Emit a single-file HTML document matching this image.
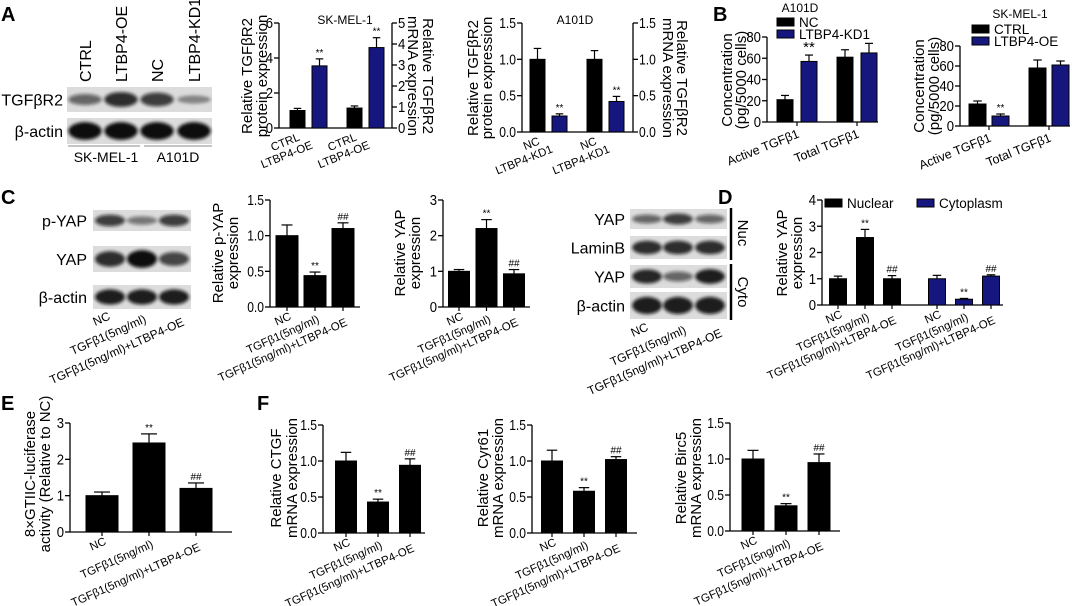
<!DOCTYPE html>
<html><head><meta charset="utf-8">
<style>
html,body{margin:0;padding:0;background:#fff;}
svg{display:block;font-family:"Liberation Sans",Arial,sans-serif;}
</style></head>
<body>
<svg id="fig" width="1072" height="606" viewBox="0 0 1072 606" xmlns="http://www.w3.org/2000/svg">
<defs><filter id="blur" x="-20%" y="-50%" width="140%" height="200%"><feGaussianBlur stdDeviation="1.6"/></filter></defs>
<g id="letters" font-weight="bold" font-size="20">
<text x="1" y="21">A</text>
<text x="713" y="21">B</text>
<text x="1" y="204">C</text>
<text x="718" y="204">D</text>
<text x="1" y="410">E</text>
<text x="257" y="410">F</text>
</g>
<g id="blots"></g>
<g id="charts"></g>
</svg>
<script>
// ---------- chart data ----------
const catsA1 = ["CTRL","LTBP4-OE","CTRL","LTBP4-OE"];
const valsA1 = [1.0, 3.55, 0.95, 3.83];
const errsA1 = [1.12, 3.95, 1.05, 4.3];
const sigA1 = ["", "**", "", "**"];
const catsA2 = ["NC","LTBP4-KD1","NC","LTBP4-KD1"];
const valsA2 = [1.0, 0.22, 1.0, 0.42];
const errsA2 = [1.15, 0.25, 1.12, 0.49];
const sigA2 = ["", "**", "", "**"];
const catsB = ["Active TGFβ1","Total TGFβ1"];
const valsB1 = [21, 57, 61, 65];
const errsB1 = [25, 63, 68, 74];
const sigB1 = ["", "**", "", ""];
const valsB2 = [22, 10, 58, 61];
const errsB2 = [25, 12, 66, 65];
const sigB2 = ["", "**", "", ""];
const cats3 = ["NC","TGFβ1(5ng/ml)","TGFβ1(5ng/ml)+LTBP4-OE"];
const valsC1 = [1.0, 0.44, 1.1]; const errsC1 = [1.15, 0.49, 1.18]; const sigC1 = ["","**","##"];
const valsC2 = [1.0, 2.2, 0.93]; const errsC2 = [1.05, 2.45, 1.05]; const sigC2 = ["","**","##"];
const valsD = [1.0, 2.57, 1.0, 1.0, 0.22, 1.1];
const errsD = [1.1, 2.88, 1.12, 1.13, 0.25, 1.15];
const sigD = ["", "**", "##", "", "**", "##"];
const valsE = [1.0, 2.45, 1.2]; const errsE = [1.1, 2.7, 1.35]; const sigE = ["","**","##"];
const valsF1 = [1.0, 0.43, 0.94]; const errsF1 = [1.12, 0.47, 1.03]; const sigF1 = ["","**","##"];
const valsF2 = [1.0, 0.58, 1.02]; const errsF2 = [1.15, 0.63, 1.06]; const sigF2 = ["","**","##"];
const valsF3 = [1.0, 0.35, 0.95]; const errsF3 = [1.12, 0.38, 1.07]; const sigF3 = ["","**","##"];
const ticks15 = ["0.0","0.5","1.0","1.5"];
const ticksA1L = ["0","2","4","6"];
const ticksA1R = ["0","1","2","3","4","5"];
const ticks80 = ["0","20","40","60","80"];
const ticks3 = ["0","1","2","3"];
const ticks4 = ["0","1","2","3","4"];

const NS = "http://www.w3.org/2000/svg";
const BLUE = "#16167f";
const root = document.getElementById('charts');
function mk(tag, attrs, parent, txt){
  const e = document.createElementNS(NS, tag);
  for (const k in attrs) e.setAttribute(k, attrs[k]);
  if (txt !== undefined) e.textContent = txt;
  (parent||root).appendChild(e); return e;
}
function yTitle(x1, x2, yc, lines, rot){
  [x1,x2].forEach((x,i)=>{
    const t = mk('text',{x:0,y:0,'font-size':15,'text-anchor':'middle',transform:`translate(${x},${yc}) rotate(${rot||-90})`},root,lines[i]);
    
    
  });
}
function axisY(g, x, yTop, yBot, ticks, right){
  mk('line',{x1:x,y1:yTop,x2:x,y2:yBot,stroke:'#000','stroke-width':1.3},g);
  const n = ticks.length-1;
  ticks.forEach((t,i)=>{
    const y = yBot - (yBot-yTop)*i/n;
    mk('line',{x1:x,y1:y,x2:right?x+5:x-5,y2:y,stroke:'#000','stroke-width':1.3},g);
    const digits = t.replace('.','').length, dots = t.length - digits;
    const tl = mk('text',{x:right?x+6:x-6,y:y+5,'font-size':14.5,'text-anchor':right?'start':'end',
      textLength:(digits*7.3+dots*2.2).toFixed(1),lengthAdjust:'spacingAndGlyphs'},g,t);
    
    
  });
}
function chart(name, s, vals, errs, sigs, maxes, ticks, cols){
  const g = mk('g',{});
  
  
  const maxL = maxes[0], maxR = maxes[1] || maxes[0];
  const yScale = (v, useR)=> s.yBot - (s.yBot - s.yTop) * v / (useR ? maxR : maxL);
  const xPos = i => s.x0 + s.pad + i*s.step + Math.floor(i / s.groupSize) * s.gap;
  axisY(g, s.x0, s.yTop, s.yBot, ticks[0]);
  if (s.rightAxis) axisY(g, s.rightAxis, s.yTop, s.yBot, ticks[1], true);
  mk('line',{x1:s.x0,y1:s.yBot,x2:s.xEnd,y2:s.yBot,stroke:'#000','stroke-width':1.3},g);
  vals.forEach((v,i)=>{
    const useR = s.rightAxis && i >= s.groupSize;
    const cx = xPos(i), y = yScale(v, useR), ye = yScale(errs[i], useR);
    mk('line',{x1:cx,y1:y,x2:cx,y2:ye,stroke:'#000','stroke-width':1.2},g);
    mk('line',{x1:cx-s.bw/4,y1:ye,x2:cx+s.bw/4,y2:ye,stroke:'#000','stroke-width':1.2},g);
    const b = mk('rect',{x:cx-s.bw/2,y:y,width:s.bw,height:s.yBot-y,fill:cols[i],stroke:'#000','stroke-width':1},g);
    
    
    if (sigs[i]){
      const st = mk('text',{x:cx,y:ye-3,'font-size':sigs[i]=='**'&&s.bigStar?15:10,'text-anchor':'middle'},g,sigs[i]);
      
      
    }
    if (s.tickX) mk('line',{x1:cx,y1:s.yBot,x2:cx,y2:s.yBot+4,stroke:'#000','stroke-width':1.2},g);
  });
  return xPos;
}
const K='#000';
const pA1 = chart('chart-a-skmel1',{x0:279,xEnd:392,yTop:23,yBot:128,pad:18.5,step:22,gap:13,groupSize:2,bw:15,rightAxis:392},
  valsA1,errsA1,sigA1,[6,5],[ticksA1L,ticksA1R],[K,BLUE,K,BLUE]);
const pA2 = chart('chart-a-a101d',{x0:522,xEnd:633,yTop:23,yBot:132,pad:15.5,step:22,gap:13,groupSize:2,bw:15,rightAxis:633},
  valsA2,errsA2,sigA2,[1.5,1.5],[ticks15,ticks15],[K,BLUE,K,BLUE]);
[[pA1,128,catsA1],[pA2,132,catsA2]].forEach(r=>{
  for(let i=0;i<4;i++){
    const x = i%2 ? r[0](i)-6 : r[0](i)+3;
    const t = mk('text',{x:0,y:0,'font-size':11.5,'text-anchor':'end',transform:`translate(${x},${r[1]+(i%2?20:12)}) rotate(-22)`},root,r[2][i]);
    
    
  }
});
mk('text',{x:345,y:24,'font-size':12,'text-anchor':'middle'},root,'SK-MEL-1');
mk('text',{x:575,y:24,'font-size':12,'text-anchor':'middle'},root,'A101D');
yTitle(252,267,76,['Relative TGFβR2','protein expression']);
yTitle(423,408,76,['Relative TGFβR2','mRNA expression'],90);
yTitle(478,492,78,['Relative TGFβR2','protein expression']);
yTitle(677,663,78,['Relative TGFβR2','mRNA expression'],90);

const pB1 = chart('chart-b-a101d',{x0:767,xEnd:878,yTop:37,yBot:122,pad:18,step:24,gap:12,groupSize:2,bw:16,bigStar:true},
  valsB1,errsB1,sigB1,[80],[ticks80],[K,BLUE,K,BLUE]);
const pB2 = chart('chart-b-skmel1',{x0:960,xEnd:1070,yTop:46,yBot:126,pad:17.5,step:23,gap:14,groupSize:2,bw:17},
  valsB2,errsB2,sigB2,[80],[ticks80],[K,BLUE,K,BLUE]);
[[pB1,122],[pB2,126]].forEach(r=>{
  for(let i=0;i<2;i++){
    const cx = (r[0](2*i)+r[0](2*i+1))/2;
    mk('line',{x1:cx,y1:r[1],x2:cx,y2:r[1]+4,stroke:'#000','stroke-width':1.2});
    const t = mk('text',{x:0,y:0,'font-size':12.5,'text-anchor':'end',transform:`translate(${cx+3},${r[1]+15}) rotate(-22)`},root,catsB[i]);
    
    
  }
});
mk('text',{x:800,y:12,'font-size':12,'text-anchor':'middle'},root,'A101D');
mk('text',{x:1020,y:18,'font-size':12,'text-anchor':'middle'},root,'SK-MEL-1');
function legend(x,y,col,label,w,gap){
  const r=mk('rect',{x:x,y:y,width:w||17,height:8,fill:col,stroke:'#000'});
  
  
  const t=mk('text',{x:x+(gap||22),y:y+9,'font-size':13.5},root,label);
  
  
}
legend(777,18,K,'NC'); legend(777,30,BLUE,'LTBP4-KD1');
legend(972,25,K,'CTRL'); legend(972,37,BLUE,'LTBP4-OE');
yTitle(732,746,80,['Concentration','(pg/5000 cells)']);
yTitle(924,939,86,['Concentration','(pg/5000 cells)']);

function labels3(xs, yBot, fs, par){
  cats3.forEach((c,i)=>{
    const t = mk('text',{x:0,y:0,'font-size':fs||11.5,'text-anchor':'end',transform:`translate(${xs[i]+5},${yBot+12+i*3}) rotate(-24)`},par||root,c);
    
    
  });
}
const s3 = (x0,xEnd,yTop,yBot,pad,step,bw)=>({x0,xEnd,yTop,yBot,pad,step,gap:0,groupSize:99,bw,tickX:true});
const idx3 = [0,1,2];
let p;
p = chart('chart-c-pyap',s3(270,360,200,307,17,28,22),valsC1,errsC1,sigC1,[1.5],[ticks15],[K,K,K]);
labels3(idx3.map(p),307);
yTitle(223,238,253,['Relative p-YAP','expression']);
p = chart('chart-c-yap',s3(443,530,200,307,16,27.5,21),valsC2,errsC2,sigC2,[3],[ticks3],[K,K,K]);
labels3(idx3.map(p),307);
yTitle(405,420,253,['Relative YAP','expression']);
p = chart('chart-d-yap',{x0:822,xEnd:1003,yTop:200,yBot:305,pad:16,step:27,gap:18,groupSize:3,bw:17,tickX:true},valsD,errsD,sigD,[4],[ticks4],[K,K,K,BLUE,BLUE,BLUE]);
labels3(idx3.map(p),305); labels3([3,4,5].map(p),305);
legend(825,199,K,'Nuclear',17,22); legend(917,199,BLUE,'Cytoplasm',17,22);
yTitle(787,802,253,['Relative YAP','expression']);
p = chart('chart-e-luciferase',s3(70,232,423,532,32,47,32),valsE,errsE,sigE,[3],[ticks3],[K,K,K]);
labels3(idx3.map(p),532);
yTitle(35,50,474,['8×GTIIC-luciferase','activity (Relative to NC)']);
p = chart('chart-f-ctgf',s3(323,425,425,533,23,32,21),valsF1,errsF1,sigF1,[1.5],[ticks15],[K,K,K]);
labels3(idx3.map(p),533);
yTitle(281,297,478,['Relative CTGF','mRNA expression']);
p = chart('chart-f-cyr61',s3(532,637,425,533,20,32,21),valsF2,errsF2,sigF2,[1.5],[ticks15],[K,K,K]);
labels3(idx3.map(p),533);
yTitle(488,503,478,['Relative Cyr61','mRNA expression']);
p = chart('chart-f-birc5',s3(730,840,423,531,23,33,22),valsF3,errsF3,sigF3,[1.5],[ticks15],[K,K,K]);
labels3(idx3.map(p),531);
yTitle(686,701,478,['Relative Birc5','mRNA expression']);

// ---------- western blots ----------
const bl = document.getElementById('blots');
function blot(name,x,y,w,h,lanes,ints,label,labelX){
  const g = mk('g',{},bl);
  
  
  mk('rect',{x:x,y:y,width:w,height:h,fill:'#dcdcdc'},g);
  lanes.forEach((cx,i)=>{
    const v = ints[i];
    mk('ellipse',{cx:cx,cy:y+h/2,rx:w/lanes.length*0.46,ry:h*0.12+h*0.22*v,fill:`rgba(15,15,15,${0.25+0.75*v})`,filter:'url(#blur)'},g);
  });
  const t=mk('text',{x:labelX,y:y+h/2+6,'font-size':16,'text-anchor':'end'},g,label);
  
  
}
const lA=[85,121,157,194];
blot('blot-tgfbr2',67,87,145,25,lA,[0.45,0.8,0.7,0.2],'TGFβR2',63);
blot('blot-actin-a',67,118,145,26,lA,[1,1,1,1],'β-actin',63);
mk('line',{x1:68,y1:146,x2:140,y2:146,stroke:'#888'},bl);
mk('line',{x1:144,y1:146,x2:212,y2:146,stroke:'#888'},bl);
mk('text',{x:106,y:162,'font-size':14,'text-anchor':'middle'},bl,'SK-MEL-1');
mk('text',{x:178,y:162,'font-size':14,'text-anchor':'middle'},bl,'A101D');
["CTRL","LTBP4-OE","NC","LTBP4-KD1"].forEach((c,i)=>{
  const t=mk('text',{x:0,y:0,'font-size':16,transform:`translate(${lA[i]+6},82) rotate(-90)`},bl,c);
  
  
});
const lC=[110,142,174];
blot('blot-pyap',93,210,98,21,lC,[0.7,0.35,0.7],'p-YAP',87);
blot('blot-yap-c',93,246,98,26,lC,[0.8,1,0.65],'YAP',87);
blot('blot-actin-c',93,285,98,24,lC,[0.9,0.9,0.9],'β-actin',87);
labels3([106,142,180],307,12,bl);
const lD=[647,678,710];
blot('blot-yap-nuc',630,209,97,20,lD,[0.45,0.7,0.45],'YAP',625);
blot('blot-laminb',630,236,97,23,lD,[0.8,0.8,0.8],'LaminB',625);
blot('blot-yap-cyto',630,265,97,23,lD,[0.85,0.45,0.9],'YAP',625);
blot('blot-actin-d',630,292,97,27,lD,[0.9,0.9,0.9],'β-actin',625);
mk('line',{x1:731,y1:208,x2:731,y2:260,stroke:'#000','stroke-width':2.5},bl);
mk('line',{x1:731,y1:264,x2:731,y2:320,stroke:'#000','stroke-width':2.5},bl);
mk('text',{x:0,y:0,'font-size':15,'text-anchor':'middle',transform:'translate(738,233) rotate(90)'},bl,'Nuc');
mk('text',{x:0,y:0,'font-size':15,'text-anchor':'middle',transform:'translate(738,292) rotate(90)'},bl,'Cyto');
labels3([644,682,718],318,12,bl);
</script>
</body></html>
